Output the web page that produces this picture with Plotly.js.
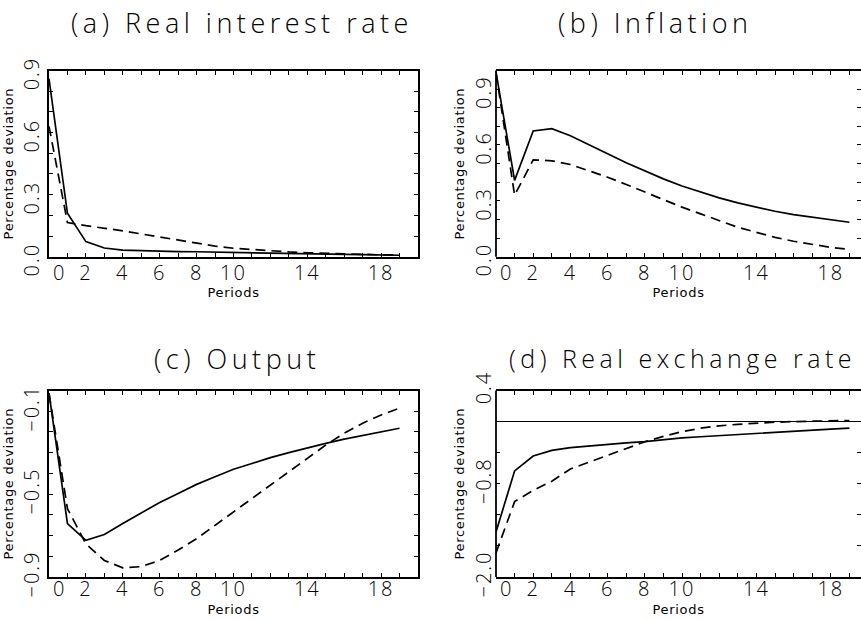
<!DOCTYPE html>
<html>
<head>
<meta charset="utf-8">
<script src="https://cdn.plot.ly/plotly-3.0.1.min.js"></script>
<style>
html,body{margin:0;padding:0;overflow:hidden;background:#fff;}
#chart{width:861px;height:620px;}
.annotation-text{letter-spacing:4.5px;}
[class$="tick"] text{letter-spacing:2px;}
[class$="title"]{letter-spacing:0.7px;}
</style>
</head>
<body>
<div id="chart"></div>
<script>
// ---- data ----
var periods = [0,1,2,3,4,5,6,7,8,9,10,11,12,13,14,15,16,17,18,19];

var rateSolid  = [0.86,0.21,0.073,0.042,0.032,0.029,0.027,0.025,0.024,0.022,0.021,0.02,0.019,0.017,0.015,0.013,0.011,0.01,0.008,0.007];
var rateDashed = [0.63,0.165,0.15,0.138,0.125,0.11,0.095,0.078,0.063,0.051,0.041,0.034,0.028,0.023,0.019,0.016,0.013,0.011,0.009,0.008];

var inflSolid  = [0.99,0.41,0.675,0.688,0.65,0.60,0.553,0.505,0.46,0.418,0.38,0.347,0.316,0.289,0.266,0.244,0.226,0.212,0.197,0.185];
var inflDashed = [0.99,0.33,0.52,0.515,0.495,0.463,0.427,0.388,0.347,0.305,0.266,0.23,0.194,0.158,0.131,0.104,0.083,0.065,0.05,0.04];

var outSolid   = [-0.013,-0.642,-0.723,-0.695,-0.642,-0.589,-0.54,-0.497,-0.453,-0.416,-0.38,-0.352,-0.324,-0.30,-0.276,-0.255,-0.235,-0.218,-0.2,-0.182];
var outDashed  = [-0.013,-0.57,-0.74,-0.82,-0.856,-0.85,-0.82,-0.77,-0.715,-0.65,-0.585,-0.52,-0.456,-0.392,-0.327,-0.263,-0.206,-0.158,-0.118,-0.085];

var rerSolid   = [-1.42,-0.635,-0.443,-0.37,-0.335,-0.312,-0.292,-0.273,-0.257,-0.232,-0.21,-0.195,-0.18,-0.163,-0.148,-0.134,-0.121,-0.108,-0.096,-0.085];
var rerDashed  = [-1.69,-1.03,-0.885,-0.767,-0.61,-0.52,-0.43,-0.35,-0.26,-0.19,-0.13,-0.085,-0.055,-0.035,-0.02,-0.008,0.0,0.006,0.01,0.014];

// ---- ticks and labels ----
var xTickVals = [0,1,2,3,4,5,6,7,8,9,10,11,12,13,14,15,16,17,18,19,20];
var xTickText = ["\u00a0\u00a0\u00a00","","2","","4","","6","","8","","10","","","","14","","","","18","",""];

var yTickValsA = [0,0.1,0.2,0.3,0.4,0.5,0.6,0.7,0.8,0.9];
var yTickTextA = ["0.0","","","0.3","","","0.6","","","0.9"];
var yTickValsB = [0,0.1,0.2,0.3,0.4,0.5,0.6,0.7,0.8,0.9,1.0];
var yTickTextB = ["0.0","","","0.3","","","0.6","","","0.9",""];
var yTickValsC = [-0.9,-0.8,-0.7,-0.6,-0.5,-0.4,-0.3,-0.2,-0.1,0];
var yTickTextC = ["\u22120.9","","","","\u22120.5","","","","\u22120.1",""];
var yTickValsD = [-2.0,-1.6,-1.2,-0.8,-0.4,0,0.4];
var yTickTextD = ["\u22122.0","","","\u22120.8","","","0.4"];

var panelTitles = ["(a) Real interest rate","(b) Inflation","(c) Output","(d) Real exchange rate"];
var xTitle = "Periods";
var yTitle = "Percentage deviation";

// ---- build ----
var W = 861, H = 620;
var FONT = "Open Sans, DejaVu Sans, sans-serif";
var SMALL = "DejaVu Sans, sans-serif";
function px(x){ return x / W; }
function py(y){ return 1 - y / H; }

function line(x, y, dash, xa, ya){
  return {x:x, y:y, xaxis:xa, yaxis:ya, type:"scatter", mode:"lines",
    line:{color:"#000", width:1.7, dash: dash ? "10px,6px" : "solid"}, hoverinfo:"skip"};
}
var data = [
  line(periods, rateSolid, false, "x", "y"),
  line(periods, rateDashed, true, "x", "y"),
  line(periods, inflSolid, false, "x2", "y2"),
  line(periods, inflDashed, true, "x2", "y2"),
  line(periods, outSolid, false, "x3", "y3"),
  line(periods, outDashed, true, "x3", "y3"),
  line(periods, rerSolid, false, "x4", "y4"),
  line(periods, rerDashed, true, "x4", "y4")
];

function xaxis(dom, anchor, xmax, lblShift){
  return {domain:dom, anchor:anchor, range:[0,xmax], tickmode:"array",
    tickvals:xTickVals, ticktext:xTickText, ticks:"inside", ticklen:4, tickwidth:1,
    tickcolor:"#000", showline:true, linecolor:"#000", linewidth:1.8, mirror:"ticks",
    showgrid:false, zeroline:false, automargin:false, ticklabelstandoff:lblShift,
    tickfont:{family:FONT, size:20, color:"#000", weight:300},
    title:{text:xTitle, font:{family:SMALL, size:13, color:"#000"}, standoff:0}};
}
function yaxis(dom, anchor, range, tv, tt, zl, line, shift){
  return {domain:dom, anchor:anchor, range:range, tickmode:"array",
    tickvals:tv, ticktext:tt, ticks:"inside", ticklen:4, tickwidth:1,
    tickcolor:"#000", showline:line, linecolor:"#000", linewidth:1.8, mirror:"ticks",
    showgrid:false, zeroline:zl, zerolinecolor:"#000", zerolinewidth:1,
    automargin:false, tickangle:-90, ticklabelshift:shift,
    tickfont:{family:FONT, size:20, color:"#000", weight:300},
    title:{text:yTitle, font:{family:SMALL, size:13, color:"#000"}, standoff:2}};
}

var topDom = [py(256.7), py(70.5)];
var botDom = [py(577), py(390.5)];
var leftDom = [px(49), px(418)];
var rightDom = [px(496), 1];
var rightMax = (W - 496) / 18.6;

function titleAnn(i, x, y, size){
  return {text:panelTitles[i], x:px(x), y:py(y), xref:"paper", yref:"paper", showarrow:false,
    xanchor:"center", yanchor:"middle", font:{family:FONT, size:size, color:"#000", weight:300}};
}
function leftEdge(xa, ya){
  return {type:"line", xref:xa + " domain", yref:ya + " domain", x0:0, x1:0, y0:0, y1:1,
    line:{color:"#000", width:1.8}};
}

var layout = {
  width:W, height:H, margin:{l:0,r:0,t:0,b:0},
  paper_bgcolor:"#fff", plot_bgcolor:"#fff", showlegend:false,
  font:{family:FONT, color:"#000"},
  xaxis: xaxis(leftDom, "y", 20, -3),
  yaxis: yaxis(topDom, "x", [0,0.9], yTickValsA, yTickTextA, false, true, 6),
  xaxis2: xaxis(rightDom, "y2", rightMax, -3),
  yaxis2: yaxis(topDom, "x2", [0,1.0], yTickValsB, yTickTextB, false, false, 6),
  xaxis3: xaxis(leftDom, "y3", 20, -7),
  yaxis3: yaxis(botDom, "x3", [-0.9,0.0], yTickValsC, yTickTextC, false, true, 0),
  xaxis4: xaxis(rightDom, "y4", rightMax, -7),
  yaxis4: yaxis(botDom, "x4", [-2.0,0.4], yTickValsD, yTickTextD, true, false, 0),
  shapes: [leftEdge("x2","y2"), leftEdge("x4","y4")],
  annotations: [
    titleAnn(0, 242, 22, 27),
    titleAnn(1, 655, 22, 27),
    titleAnn(2, 237, 358, 27),
    titleAnn(3, 682, 358, 25)
  ]
};

Plotly.newPlot("chart", data, layout, {staticPlot:true, displayModeBar:false});
</script>
</body>
</html>
